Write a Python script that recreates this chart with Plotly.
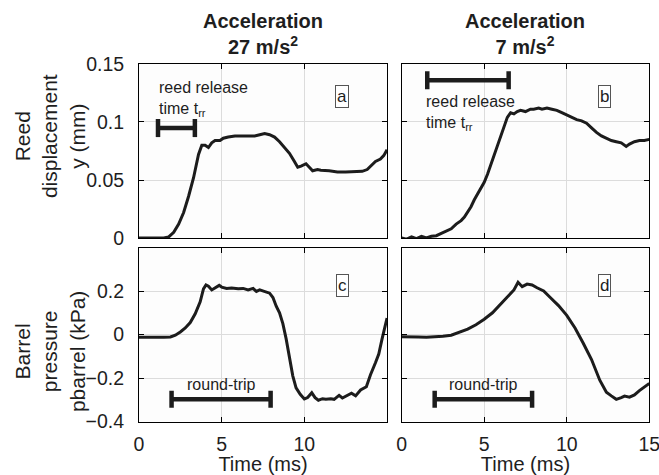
import plotly.graph_objects as go
from plotly.subplots import make_subplots

# ---------------- data ----------------
t_a = [0.0, 0.5, 1.0, 1.5, 1.8, 2.1, 2.4, 2.7, 3.0, 3.3, 3.6, 3.8, 4.0, 4.2, 4.4, 4.6, 4.9,
       5.1, 5.4, 5.8, 6.2, 6.6, 7.0, 7.3, 7.6, 7.9, 8.2, 8.5, 8.8, 9.1, 9.4, 9.6, 9.8, 10.1,
       10.3, 10.5, 10.8, 11.0, 11.5, 12.0, 12.5, 13.0, 13.5, 13.8, 14.0, 14.3, 14.6, 14.8, 15.0]
y_a = [0.0, 0.0, 0.0005, 0.0, 0.001, 0.005, 0.012, 0.022, 0.036, 0.052, 0.072, 0.080, 0.080,
       0.078, 0.082, 0.084, 0.084, 0.086, 0.087, 0.088, 0.088, 0.088, 0.088, 0.089, 0.090, 0.089,
       0.087, 0.083, 0.078, 0.073, 0.066, 0.061, 0.062, 0.064, 0.061, 0.058, 0.059, 0.0585,
       0.058, 0.057, 0.057, 0.057, 0.0575, 0.059, 0.062, 0.066, 0.068, 0.071, 0.076]

t_b = [0.0, 0.3, 0.6, 0.9, 1.2, 1.5, 1.8, 2.1, 2.4, 2.7, 3.0, 3.3, 3.6, 3.8, 4.0, 4.2, 4.4,
       4.6, 4.8, 5.0, 5.2, 5.4, 5.6, 5.8, 6.0, 6.2, 6.4, 6.6, 6.8, 7.0, 7.2, 7.5, 7.8, 8.0,
       8.3, 8.5, 8.8, 9.1, 9.4, 9.7, 10.0, 10.3, 10.6, 10.9, 11.2, 11.5, 11.8, 12.1, 12.4,
       12.7, 13.0, 13.3, 13.6, 13.8, 14.1, 14.4, 14.7, 15.0]
y_b = [0.0, -0.001, 0.001, -0.0005, 0.0015, 0.0, 0.0015, 0.002, 0.004, 0.006, 0.008, 0.012,
       0.015, 0.018, 0.022, 0.027, 0.033, 0.038, 0.043, 0.048, 0.055, 0.063, 0.071, 0.079,
       0.087, 0.096, 0.104, 0.108, 0.107, 0.109, 0.110, 0.109, 0.111, 0.111, 0.112, 0.111,
       0.112, 0.111, 0.110, 0.108, 0.106, 0.104, 0.102, 0.101, 0.099, 0.095, 0.091, 0.088,
       0.086, 0.084, 0.083, 0.082, 0.079, 0.081, 0.083, 0.084, 0.084, 0.085]

t_c = [0.0, 0.5, 1.0, 1.5, 1.9, 2.2, 2.5, 2.8, 3.1, 3.4, 3.7, 3.9, 4.05, 4.2, 4.4, 4.6,
       4.85, 5.0, 5.3, 5.6, 6.0, 6.3, 6.6, 6.9, 7.1, 7.3, 7.6, 7.9, 8.1, 8.3, 8.5, 8.7, 8.9,
       9.1, 9.3, 9.5, 9.75, 10.0, 10.2, 10.45, 10.65, 10.85, 11.1, 11.3, 11.6, 11.8, 12.1,
       12.3, 12.5, 12.85, 13.1, 13.4, 13.75, 14.0, 14.3, 14.5, 14.7, 15.0]
p_c = [-0.012, -0.013, -0.012, -0.012, -0.011, -0.003, 0.012, 0.03, 0.055, 0.095, 0.15,
       0.21, 0.228, 0.222, 0.205, 0.215, 0.226, 0.218, 0.212, 0.214, 0.21, 0.212, 0.205,
       0.212, 0.198, 0.205, 0.196, 0.19, 0.17, 0.13, 0.1, 0.05, -0.02, -0.1, -0.19, -0.245,
       -0.275, -0.296, -0.29, -0.268, -0.29, -0.302, -0.295, -0.298, -0.295, -0.298, -0.28,
       -0.292, -0.285, -0.27, -0.282, -0.255, -0.24, -0.185, -0.13, -0.09, -0.02, 0.076]

t_d = [0.0, 0.5, 1.0, 1.5, 2.0, 2.5, 3.0, 3.5, 4.0, 4.5, 5.0, 5.5, 6.0, 6.5, 6.8, 7.05,
       7.3, 7.6, 7.9, 8.2, 8.6, 9.0, 9.5, 10.0, 10.5, 11.0, 11.5, 12.0, 12.4, 12.7, 13.0,
       13.3, 13.5, 13.8, 14.1, 14.4, 14.7, 15.0]
p_d = [-0.01, -0.012, -0.011, -0.012, -0.011, -0.008, -0.003, 0.01, 0.025, 0.045, 0.07,
       0.1, 0.14, 0.18, 0.205, 0.24, 0.22, 0.232, 0.228, 0.215, 0.2, 0.17, 0.133, 0.088,
       0.03, -0.04, -0.115, -0.21, -0.265, -0.282, -0.298, -0.29, -0.283, -0.288, -0.278,
       -0.258, -0.24, -0.225]

col_titles = ["<b>Acceleration</b><br><b>27 m/s<sup>2</sup></b>",
              "<b>Acceleration</b><br><b>7 m/s<sup>2</sup></b>"]
row_titles = ["Reed<br>displacement<br>y (mm)", "Barrel<br>pressure<br>pbarrel (kPa)"]
panel_labels = ["a", "b", "c", "d"]
x_ticks_left = [0, 5, 10]
x_ticks_right = [0, 5, 10, 15]
y_ticks_top = [0, 0.05, 0.1, 0.15]
y_tick_text_top = ["0", "0.05", "0.1", "0.15"]
y_ticks_bottom = [-0.4, -0.2, 0, 0.2]

# interval bars: [start, end, level]
release_bar_a = [1.15, 3.38, 0.0948]
release_bar_b = [1.55, 6.48, 0.136]
trip_bar_c = [1.97, 7.96, -0.298]
trip_bar_d = [2.0, 7.9, -0.298]

# ---------------- figure ----------------
FONT = "Liberation Sans, Arial, sans-serif"
fig = make_subplots(rows=2, cols=2)

line = dict(color="#1c1c1c", width=3)
fig.add_trace(go.Scatter(x=t_a, y=y_a, mode="lines", line=line, showlegend=False), 1, 1)
fig.add_trace(go.Scatter(x=t_b, y=y_b, mode="lines", line=line, showlegend=False), 1, 2)
fig.add_trace(go.Scatter(x=t_c, y=p_c, mode="lines", line=line, showlegend=False), 2, 1)
fig.add_trace(go.Scatter(x=t_d, y=p_d, mode="lines", line=line, showlegend=False), 2, 2)

xl = [0.2109, 0.5873]
xr = [0.6095, 0.9853]
yt = [0.4989, 0.8653]
yb = [0.1126, 0.4789]

common = dict(showline=True, linecolor="black", linewidth=1, mirror="ticks",
              ticks="inside", ticklen=5, tickcolor="black", tickwidth=1,
              showgrid=True, gridcolor="#dcdcdc", gridwidth=1, zeroline=False,
              automargin=False, ticklabeloverflow="allow",
              tickfont=dict(family=FONT, size=19.5, color="#1e1e1e"))

fig.update_layout(
    xaxis=dict(domain=xl, range=[0, 15], tickvals=x_ticks_left, showticklabels=False, **common),
    xaxis2=dict(domain=xr, range=[0, 15], tickvals=x_ticks_right, showticklabels=False, **common),
    xaxis3=dict(domain=xl, range=[0, 15], tickvals=x_ticks_left, ticklabelstandoff=5,
                title=dict(text="Time (ms)", font=dict(family=FONT, size=20, color="#1e1e1e"), standoff=3),
                **common),
    xaxis4=dict(domain=xr, range=[0, 15], tickvals=x_ticks_right, ticklabelstandoff=5,
                title=dict(text="Time (ms)", font=dict(family=FONT, size=20, color="#1e1e1e"), standoff=3),
                **common),
    yaxis=dict(domain=yt, range=[0, 0.15], tickvals=y_ticks_top, ticktext=y_tick_text_top,
               ticklabelstandoff=10, **common),
    yaxis2=dict(domain=yt, range=[0, 0.15], tickvals=y_ticks_top, showticklabels=False, **common),
    yaxis3=dict(domain=yb, range=[-0.4, 0.4], tickvals=y_ticks_bottom, ticklabelstandoff=10,
                **common),
    yaxis4=dict(domain=yb, range=[-0.4, 0.4], tickvals=y_ticks_bottom, showticklabels=False,
                **common),
    width=659, height=475, margin=dict(l=0, r=0, t=0, b=0, autoexpand=False),
    paper_bgcolor="white", plot_bgcolor="#fdfdfd",
    font=dict(family=FONT, color="#1e1e1e"),
)

# column titles
for i, dom in enumerate([xl, xr]):
    fig.add_annotation(xref="paper", yref="paper", x=(dom[0] + dom[1]) / 2, y=0.928,
                       text=col_titles[i], showarrow=False, xanchor="center", yanchor="middle",
                       font=dict(family=FONT, size=20, color="#1e1e1e"))

# row titles
for text, ypos in zip(row_titles, [0.7137, 0.259]):
    fig.add_annotation(xref="paper", yref="paper", x=0.076, y=ypos, text=text, textangle=-90,
                       showarrow=False, xanchor="center", yanchor="middle",
                       font=dict(family=FONT, size=21, color="#1e1e1e"))

# panel letters
refs = [("x", "y", 0.1224), ("x2", "y2", 0.1224), ("x3", "y3", 0.225), ("x4", "y4", 0.225)]
for (xr_, yr_, yv), lab in zip(refs, panel_labels):
    fig.add_annotation(xref=xr_, yref=yr_, x=12.3, y=yv, text=lab, showarrow=False,
                       font=dict(family=FONT, size=17, color="#1e1e1e"),
                       bordercolor="#555", borderwidth=1, borderpad=1, bgcolor="white")

# interval bars
def add_bar(bar, xref, yref, cap):
    x0, x1, yv = bar
    st = dict(type="line", xref=xref, yref=yref, line=dict(color="#1c1c1c", width=4.5))
    fig.add_shape(x0=x0, x1=x1, y0=yv, y1=yv, **st)
    fig.add_shape(x0=x0, x1=x0, y0=yv - cap, y1=yv + cap, **st)
    fig.add_shape(x0=x1, x1=x1, y0=yv - cap, y1=yv + cap, **st)

add_bar(release_bar_a, "x", "y", 0.0078)
add_bar(release_bar_b, "x2", "y2", 0.0078)
add_bar(trip_bar_c, "x3", "y3", 0.039)
add_bar(trip_bar_d, "x4", "y4", 0.039)

ann_font = dict(family=FONT, size=16, color="#1e1e1e")
fig.add_annotation(xref="x", yref="y", x=1.09, y=0.139, text="reed release<br>time t<sub>rr</sub>",
                   showarrow=False, xanchor="left", yanchor="top", align="left", font=ann_font)
fig.add_annotation(xref="x2", yref="y2", x=1.35, y=0.127, text="reed release<br>time t<sub>rr</sub>",
                   showarrow=False, xanchor="left", yanchor="top", align="left", font=ann_font)
fig.add_annotation(xref="x3", yref="y3", x=(trip_bar_c[0] + trip_bar_c[1]) / 2, y=-0.23,
                   text="round-trip", showarrow=False, xanchor="center", yanchor="middle", font=ann_font)
fig.add_annotation(xref="x4", yref="y4", x=(trip_bar_d[0] + trip_bar_d[1]) / 2, y=-0.23,
                   text="round-trip", showarrow=False, xanchor="center", yanchor="middle", font=ann_font)

fig.write_html("out.html")
